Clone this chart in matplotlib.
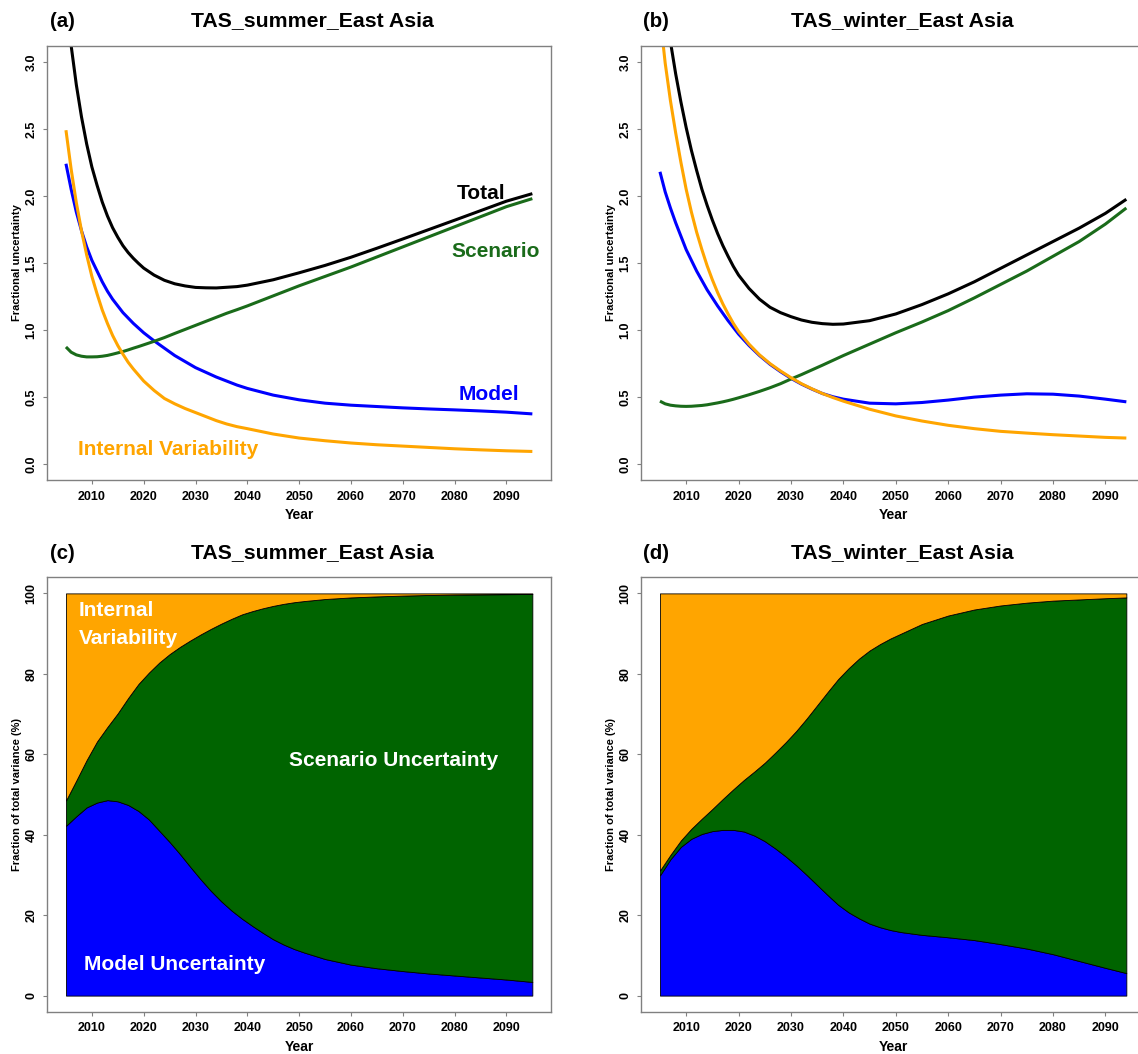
import matplotlib
matplotlib.use("Agg")
import matplotlib.pyplot as plt

plt.rcParams['font.family'] = ['Liberation Sans', 'DejaVu Sans']
plt.rcParams['font.weight'] = 'bold'

# ---------------- data ----------------
years_a = [2005, 2006, 2007, 2008, 2009, 2010, 2011, 2012, 2013, 2014, 2015, 2016, 2017, 2018,
           2019, 2020, 2022, 2024, 2026, 2028, 2030, 2032, 2034, 2036, 2038, 2040,
           2045, 2050, 2055, 2060, 2065, 2070, 2075, 2080, 2085, 2090, 2095]
total_a = [3.461, 3.121, 2.829, 2.589, 2.387, 2.216, 2.080, 1.955, 1.851, 1.763, 1.692, 1.629,
           1.578, 1.535, 1.497, 1.462, 1.410, 1.371, 1.345, 1.329, 1.318, 1.315, 1.314, 1.319,
           1.324, 1.335, 1.375, 1.427, 1.482, 1.543, 1.610, 1.679, 1.749, 1.819, 1.890, 1.961, 2.017]
scen_a = [0.874, 0.835, 0.815, 0.805, 0.80, 0.80, 0.801, 0.805, 0.811, 0.82, 0.83, 0.84,
          0.852, 0.865, 0.877, 0.89, 0.916, 0.944, 0.975, 1.005, 1.035, 1.065, 1.095, 1.125,
          1.152, 1.18, 1.255, 1.33, 1.40, 1.47, 1.545, 1.62, 1.695, 1.77, 1.845, 1.92, 1.98]
model_a = [2.24, 2.05, 1.88, 1.74, 1.62, 1.52, 1.44, 1.36, 1.29, 1.23, 1.18, 1.13, 1.09, 1.05,
           1.015, 0.98, 0.92, 0.865, 0.81, 0.765, 0.72, 0.685, 0.65, 0.62, 0.59, 0.565,
           0.515, 0.48, 0.455, 0.44, 0.43, 0.42, 0.412, 0.405, 0.397, 0.388, 0.375]
intvar_a = [2.49, 2.20, 1.95, 1.74, 1.56, 1.40, 1.27, 1.15, 1.05, 0.96, 0.885, 0.82, 0.76, 0.71,
            0.665, 0.62, 0.55, 0.49, 0.45, 0.415, 0.385, 0.355, 0.325, 0.30, 0.28, 0.265,
            0.225, 0.195, 0.175, 0.158, 0.145, 0.135, 0.125, 0.115, 0.107, 0.10, 0.095]

years_b = [2005, 2006, 2007, 2008, 2009, 2010, 2011, 2012, 2013, 2014, 2015, 2016, 2017, 2018,
           2019, 2020, 2022, 2024, 2026, 2028, 2030, 2032, 2034, 2036, 2038, 2040,
           2045, 2050, 2055, 2060, 2065, 2070, 2075, 2080, 2085, 2090, 2094]
total_b = [3.70, 3.40, 3.15, 2.91, 2.70, 2.51, 2.34, 2.19, 2.05, 1.93, 1.82, 1.72, 1.63, 1.55,
           1.475, 1.41, 1.31, 1.23, 1.17, 1.13, 1.10, 1.075, 1.058, 1.048, 1.043, 1.045,
           1.07, 1.12, 1.19, 1.27, 1.36, 1.46, 1.56, 1.66, 1.76, 1.87, 1.975]
scen_b = [0.47, 0.45, 0.44, 0.435, 0.432, 0.431, 0.432, 0.435, 0.438, 0.443, 0.45, 0.457,
          0.465, 0.474, 0.484, 0.495, 0.518, 0.543, 0.57, 0.60, 0.635, 0.668, 0.703, 0.738,
          0.774, 0.81, 0.895, 0.98, 1.06, 1.145, 1.24, 1.34, 1.44, 1.55, 1.66, 1.79, 1.91]
model_b = [2.18, 2.03, 1.91, 1.80, 1.70, 1.60, 1.52, 1.44, 1.37, 1.30, 1.24, 1.18, 1.125, 1.07,
           1.02, 0.97, 0.885, 0.81, 0.745, 0.69, 0.64, 0.597, 0.56, 0.527, 0.503, 0.485,
           0.455, 0.45, 0.46, 0.478, 0.50, 0.515, 0.525, 0.522, 0.508, 0.485, 0.465]
intvar_b = [3.35, 2.99, 2.71, 2.47, 2.25, 2.05, 1.88, 1.73, 1.60, 1.48, 1.375, 1.28, 1.195, 1.12,
            1.05, 0.99, 0.895, 0.815, 0.75, 0.695, 0.645, 0.60, 0.562, 0.527, 0.497, 0.47,
            0.41, 0.36, 0.322, 0.29, 0.265, 0.245, 0.232, 0.22, 0.21, 0.20, 0.195]

years_c = [2005, 2007, 2009, 2011, 2013, 2015, 2017, 2019, 2021, 2023, 2025, 2027, 2029, 2031,
           2033, 2035, 2037, 2039, 2041, 2043, 2045, 2047, 2049, 2051,
           2055, 2060, 2065, 2070, 2075, 2080, 2085, 2090, 2095]
model_pct_c = [42.2, 44.6, 46.8, 48.0, 48.6, 48.3, 47.4, 45.9, 43.8, 41.0, 38.2, 35.2, 32.0, 28.9,
               26.0, 23.4, 21.1, 19.1, 17.3, 15.6, 14.0, 12.7, 11.6, 10.7,
               9.1, 7.7, 6.8, 6.1, 5.5, 5.0, 4.5, 4.0, 3.4]
scen_pct_c = [6.3, 8.9, 11.8, 15.2, 18.2, 21.9, 26.6, 31.6, 36.5, 41.8, 46.7, 51.5, 56.3, 60.9,
              65.2, 69.1, 72.6, 75.7, 78.3, 80.7, 82.9, 84.7, 86.2, 87.4,
              89.5, 91.3, 92.45, 93.35, 94.1, 94.7, 95.25, 95.8, 96.45]
int_pct_c = [51.5, 46.5, 41.4, 36.8, 33.2, 29.8, 26.0, 22.5, 19.7, 17.2, 15.1, 13.3, 11.7, 10.2,
             8.8, 7.5, 6.3, 5.2, 4.4, 3.7, 3.1, 2.6, 2.2, 1.9,
             1.4, 1.0, 0.75, 0.55, 0.4, 0.3, 0.25, 0.2, 0.15]

years_d = [2005, 2007, 2009, 2011, 2013, 2015, 2017, 2019, 2021, 2023, 2025, 2027, 2029, 2031,
           2033, 2035, 2037, 2039, 2041, 2043, 2045, 2047, 2049, 2051,
           2055, 2060, 2065, 2070, 2075, 2080, 2085, 2090, 2094]
model_pct_d = [29.9, 33.9, 37.0, 39.0, 40.2, 40.9, 41.2, 41.2, 40.8, 39.8, 38.4, 36.6, 34.6, 32.4,
               30.0, 27.5, 25.0, 22.6, 20.7, 19.2, 17.9, 17.0, 16.3, 15.8,
               15.1, 14.5, 13.8, 12.8, 11.7, 10.3, 8.6, 6.9, 5.6]
scen_pct_d = [1.2, 1.1, 1.6, 2.5, 3.8, 5.5, 7.7, 10.1, 12.8, 15.9, 19.5, 23.8, 28.4, 33.4,
              38.9, 44.7, 50.5, 56.1, 60.7, 64.6, 67.9, 70.4, 72.5, 74.2,
              77.3, 80.0, 82.2, 84.2, 86.0, 87.9, 89.9, 91.9, 93.4]
int_pct_d = [68.9, 65.0, 61.4, 58.5, 56.0, 53.6, 51.1, 48.7, 46.4, 44.3, 42.1, 39.6, 37.0, 34.2,
             31.1, 27.8, 24.5, 21.3, 18.6, 16.2, 14.2, 12.6, 11.2, 10.0,
             7.6, 5.5, 4.0, 3.0, 2.3, 1.8, 1.5, 1.2, 1.0]

xticks = [2010, 2020, 2030, 2040, 2050, 2060, 2070, 2080, 2090]
yticks_top = [0.0, 0.5, 1.0, 1.5, 2.0, 2.5, 3.0]
ytick_labels_top = ["0.0", "0.5", "1.0", "1.5", "2.0", "2.5", "3.0"]
yticks_bot = [0, 20, 40, 60, 80, 100]
ytick_labels_bot = ["0", "20", "40", "60", "80", "100"]

titles = ["TAS_summer_East Asia", "TAS_winter_East Asia",
          "TAS_summer_East Asia", "TAS_winter_East Asia"]
panel_tags = ["(a)", "(b)", "(c)", "(d)"]

# ---------------- figure ----------------
W, H = 1138, 1054
fig = plt.figure(figsize=(W / 100, H / 100), dpi=100)

def rect(left, top, right, bottom):
    return [left / W, 1 - bottom / H, (right - left) / W, (bottom - top) / H]

ax_a = fig.add_axes(rect(47.3, 45.7, 551.0, 480.3))
ax_b = fig.add_axes(rect(641.3, 45.7, 1145.0, 480.3))
ax_c = fig.add_axes(rect(47.3, 577.3, 551.0, 1011.7))
ax_d = fig.add_axes(rect(641.3, 577.3, 1145.0, 1011.7))

ORANGE = '#FFA500'
BLUE = '#0000FF'
GREEN = '#006400'
LGREEN = '#1a6b1a'
FRAME = '#808080'
lw = 2.2
line_kw = dict(lw=lw, solid_joinstyle='round', solid_capstyle='butt')

def style(ax, yticks, ylabels, ylabel):
    ax.set_xticks(xticks)
    ax.set_xticklabels([str(t) for t in xticks], fontsize=9, fontweight='bold')
    ax.set_yticks(yticks)
    ax.set_yticklabels(ylabels, fontsize=9, fontweight='bold', rotation=90, va='center')
    ax.tick_params(direction='out', length=3.0, width=0.8, color=FRAME, pad=4.0)
    ax.tick_params(axis='x', pad=4.5)
    for s in ax.spines.values():
        s.set_color(FRAME)
        s.set_linewidth(1.0)
    ax.set_xlabel("Year", fontsize=10, fontweight='bold')
    ax.xaxis.set_label_coords(0.5, -0.064)
    ax.set_ylabel(ylabel, fontsize=8, fontweight='bold')
    ax.yaxis.set_label_coords(-0.050, 0.5)

# panel a
ax_a.plot(years_a, total_a, color='black', **line_kw)
ax_a.plot(years_a, model_a, color=BLUE, **line_kw)
ax_a.plot(years_a, scen_a, color=LGREEN, **line_kw)
ax_a.plot(years_a, intvar_a, color=ORANGE, **line_kw)
ax_a.set_xlim(2001.4, 2098.6)
ax_a.set_ylim(-0.12, 3.12)
style(ax_a, yticks_top, ytick_labels_top, "Fractional uncertainty")
lab_kw = dict(fontsize=15, fontweight='bold', ha='center', va='center')
ax_a.text(2085.2, 2.02, "Total", color='black', **lab_kw)
ax_a.text(2087.9, 1.584, "Scenario", color=LGREEN, **lab_kw)
ax_a.text(2086.6, 0.52, "Model", color=BLUE, **lab_kw)
ax_a.text(2024.7, 0.107, "Internal Variability", color=ORANGE, **lab_kw)

# panel b
ax_b.plot(years_b, total_b, color='black', **line_kw)
ax_b.plot(years_b, model_b, color=BLUE, **line_kw)
ax_b.plot(years_b, scen_b, color=LGREEN, **line_kw)
ax_b.plot(years_b, intvar_b, color=ORANGE, **line_kw)
ax_b.set_xlim(2001.44, 2097.56)
ax_b.set_ylim(-0.12, 3.12)
style(ax_b, yticks_top, ytick_labels_top, "Fractional uncertainty")

# panel c
ax_c.stackplot(years_c, model_pct_c, scen_pct_c, int_pct_c,
               colors=[BLUE, GREEN, ORANGE], edgecolor='black', linewidth=0.6)
ax_c.set_xlim(2001.4, 2098.6)
ax_c.set_ylim(-4, 104)
style(ax_c, yticks_bot, ytick_labels_bot, "Fraction of total variance (%)")
ax_c.text(2007.5, 95.85, "Internal", color='white', fontsize=15, fontweight='bold',
          ha='left', va='center')
ax_c.text(2007.5, 88.9, "Variability", color='white', fontsize=15, fontweight='bold',
          ha='left', va='center')
ax_c.text(2068.3, 58.5, "Scenario Uncertainty", color='white', **lab_kw)
ax_c.text(2026.0, 7.7, "Model Uncertainty", color='white', **lab_kw)

# panel d
ax_d.stackplot(years_d, model_pct_d, scen_pct_d, int_pct_d,
               colors=[BLUE, GREEN, ORANGE], edgecolor='black', linewidth=0.6)
ax_d.set_xlim(2001.44, 2097.56)
ax_d.set_ylim(-4, 104)
style(ax_d, yticks_bot, ytick_labels_bot, "Fraction of total variance (%)")

# titles and panel tags (figure pixel positions)
title_pos = [(312, 21), (902, 21), (312, 553), (902, 553)]
tag_pos = [(62.5, 21.7), (656, 21.7), (62.5, 553.3), (656, 553.3)]
for t, (x, y) in zip(titles, title_pos):
    fig.text(x / W, 1 - y / H, t, fontsize=15.3, fontweight='bold', ha='center', va='center')
for t, (x, y) in zip(panel_tags, tag_pos):
    fig.text(x / W, 1 - y / H, t, fontsize=14.7, fontweight='bold', ha='center', va='center')

fig.savefig("out.png", dpi=100)
